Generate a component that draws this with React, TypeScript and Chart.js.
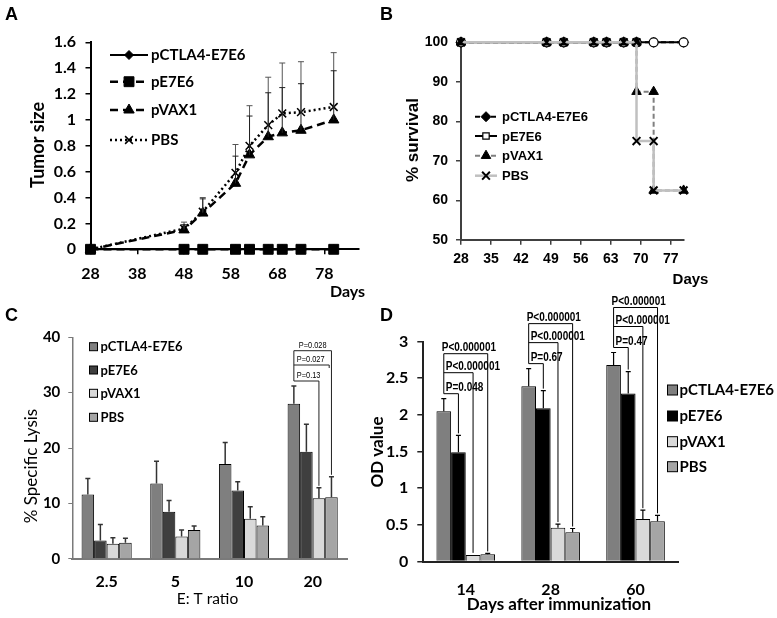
import { useEffect, useRef } from 'react';
import { Chart, registerables } from 'chart.js';
import { drawPoint } from 'chart.js/helpers';
Chart.register(...registerables);

const W = 777;
const H = 618;

const groupNames = ['pCTLA4-E7E6', 'pE7E6', 'pVAX1', 'PBS'];

// Panel A: tumor size
const tumorDays = [28, 48, 52, 59, 62, 66, 69, 73, 80];
const tumorCTLA4 = [0, 0, 0, 0, 0, 0, 0, 0, 0];
const tumorE7E6 = [0, 0, 0, 0, 0, 0, 0, 0, 0];
const tumorVAX1 = [0, 0.15, 0.28, 0.51, 0.73, 0.87, 0.9, 0.92, 1.0];
const tumorVAX1Sd = [0, 0.04, 0.11, 0.21, 0.3, 0.34, 0.35, 0.36, 0.38];
const tumorPBS = [0, 0.16, 0.29, 0.59, 0.8, 0.96, 1.05, 1.06, 1.1];
const tumorPBSSd = [0, 0.05, 0.11, 0.22, 0.31, 0.37, 0.39, 0.39, 0.42];
const tumorYTicks = [0, 0.2, 0.4, 0.6, 0.8, 1, 1.2, 1.4, 1.6];
const tumorXTicks = [28, 38, 48, 58, 68, 78];

// Panel B: survival
const survDays = [28, 48, 52, 59, 62, 66, 69, 73, 80];
const survCTLA4 = [100, 100, 100, 100, 100, 100, 100, 100, 100];
const survE7E6 = [100, 100, 100, 100, 100, 100, 100, 100, 100];
const survStepDays = [28, 48, 52, 59, 62, 66, 69, 69, 73, 73, 80];
const survVAX1 = [100, 100, 100, 100, 100, 100, 100, 87.5, 87.5, 62.5, 62.5];
const survPBS = [100, 100, 100, 100, 100, 100, 100, 75, 75, 62.5, 62.5];
const survYTicks = [50, 60, 70, 80, 90, 100];
const survXTicks = [28, 35, 42, 49, 56, 63, 70, 77];

// Panel C: specific lysis
const ratios = ['2.5', '5', '10', '20'];
const lysisCTLA4 = [11.6, 13.6, 17.1, 28.0];
const lysisCTLA4Sd = [2.9, 4.0, 3.9, 3.2];
const lysisE7E6 = [3.3, 8.5, 12.3, 19.3];
const lysisE7E6Sd = [2.9, 2.0, 1.6, 5.0];
const lysisVAX1 = [2.7, 4.0, 7.2, 10.9];
const lysisVAX1Sd = [1.1, 1.2, 2.2, 1.9];
const lysisPBS = [2.9, 5.2, 6.0, 11.1];
const lysisPBSSd = [0.8, 0.7, 1.6, 3.7];
const lysisYTicks = [0, 10, 20, 30, 40];
const lysisPLabels = ['P=0.13', 'P=0.027', 'P=0.028'];

// Panel D: OD value
const odDays = ['14', '28', '60'];
const odCTLA4 = [2.05, 2.39, 2.68];
const odCTLA4Sd = [0.17, 0.24, 0.17];
const odE7E6 = [1.49, 2.09, 2.29];
const odE7E6Sd = [0.23, 0.24, 0.3];
const odVAX1 = [0.09, 0.46, 0.58];
const odVAX1Sd = [0.0, 0.05, 0.12];
const odPBS = [0.1, 0.4, 0.55];
const odPBSSd = [0.01, 0.05, 0.08];
const odYTicks = [0, 0.5, 1, 1.5, 2, 2.5, 3];
const odPLabels = [
  ['P=0.048', 'P<0.000001', 'P<0.000001'],
  ['P=0.67', 'P<0.000001', 'P<0.000001'],
  ['P=0.47', 'P<0.000001', 'P<0.000001'],
];

const lato = (size: number, weight = 'bold') => `${weight} ${size}px Lato`;
const arial = (size: number, weight = 'bold') => `${weight} ${size}px "Liberation Sans", Arial, sans-serif`;

function pts(xs: number[], ys: number[]) {
  return xs.map((x, i) => ({ x, y: ys[i] }));
}

// chart area edges: left, top, right, bottom. Axes boxes fill the left/bottom margins.
function area(l: number, t: number, r: number, b: number) {
  return {
    padding: { left: 0, top: t, right: W - r, bottom: 0 },
    yw: l,
    xh: H - b,
  };
}

function txt(ctx: any, s: string, x: number, y: number, font: string, o: any = {}) {
  ctx.save();
  ctx.font = font;
  ctx.fillStyle = o.color || '#000';
  ctx.textAlign = o.align || 'left';
  ctx.textBaseline = o.baseline || 'alphabetic';
  ctx.translate(x, y);
  if (o.rotate) ctx.rotate(o.rotate);
  if (o.sx) ctx.scale(o.sx, 1);
  ctx.fillText(s, 0, 0);
  ctx.restore();
}

function line(ctx: any, x1: number, y1: number, x2: number, y2: number, color: string, width: number, dash: number[] = []) {
  ctx.save();
  ctx.strokeStyle = color;
  ctx.lineWidth = width;
  ctx.setLineDash(dash);
  ctx.beginPath();
  ctx.moveTo(x1, y1);
  ctx.lineTo(x2, y2);
  ctx.stroke();
  ctx.restore();
}

function marker(ctx: any, style: string, r: number, x: number, y: number, fill: string, stroke: string, bw: number) {
  ctx.save();
  ctx.fillStyle = fill;
  ctx.strokeStyle = stroke;
  ctx.lineWidth = bw;
  ctx.setLineDash([]);
  drawPoint(ctx, { pointStyle: style, radius: r, rotation: 0, borderWidth: bw } as any, x, y);
  ctx.restore();
}

function errUp(ctx: any, x: number, y1: number, y2: number, half: number, color: string, width: number) {
  ctx.save();
  ctx.strokeStyle = color;
  ctx.lineWidth = width;
  ctx.beginPath();
  ctx.moveTo(x, y1);
  ctx.lineTo(x, y2);
  ctx.moveTo(x - half, y2);
  ctx.lineTo(x + half, y2);
  ctx.stroke();
  ctx.restore();
}

function fixTicks(vals: number[]) {
  return (s: any) => {
    s.ticks = vals.map((v) => ({ value: v }));
  };
}

const baseOpts = {
  responsive: false,
  animation: false as const,
  events: [] as any[],
};

function configA(): any {
  const styles = [
    { color: '#000', width: 2, dash: [], ps: 'rectRot', r: 4.5, fill: '#000', bw: 1 },
    { color: '#000', width: 2.5, dash: [8, 5], ps: 'rect', r: 7, fill: '#000', bw: 1 },
    { color: '#000', width: 2.5, dash: [8, 5], ps: 'triangle', r: 6, fill: '#000', bw: 1 },
    { color: '#000', width: 2.5, dash: [2, 3], ps: 'crossRot', r: 5.5, fill: '#000', bw: 1.5 },
  ];
  const series = [tumorCTLA4, tumorE7E6, tumorVAX1, tumorPBS];
  const orders = [3, 2, 1, 0];
  const a = area(90.5, 42.3, 358.5, 249.3);
  return {
    type: 'line',
    data: {
      datasets: series.map((s, i) => ({
        label: groupNames[i],
        data: pts(tumorDays, s),
        borderColor: styles[i].color,
        borderWidth: styles[i].width,
        borderDash: styles[i].dash,
        pointStyle: styles[i].ps,
        pointRadius: styles[i].r,
        pointBackgroundColor: styles[i].fill,
        pointBorderColor: '#000',
        pointBorderWidth: styles[i].bw,
        tension: 0,
        clip: false,
        order: orders[i],
      })),
    },
    options: {
      ...baseOpts,
      layout: { padding: a.padding },
      plugins: { legend: { display: false }, tooltip: { enabled: false } },
      scales: {
        x: {
          type: 'linear',
          min: 28,
          max: 85.3,
          afterBuildTicks: fixTicks(tumorXTicks),
          afterFit: (s: any) => { s.height = a.xh; },
          grid: { display: true, drawOnChartArea: false, drawTicks: true, tickLength: 5, color: '#000', lineWidth: 1.5 },
          border: { display: true, color: '#000', width: 2 },
          ticks: { font: { family: 'Lato', size: 16, weight: 'bold' }, color: '#000', padding: 10, maxRotation: 0, autoSkip: false },
        },
        y: {
          type: 'linear',
          min: 0,
          max: 1.6,
          afterBuildTicks: fixTicks(tumorYTicks),
          afterFit: (s: any) => { s.width = a.yw; },
          grid: { display: true, drawOnChartArea: false, drawTicks: true, tickLength: 5, color: '#000', lineWidth: 1.5 },
          border: { display: true, color: '#000', width: 2 },
          ticks: { font: { family: 'Lato', size: 16, weight: 'bold' }, color: '#000', padding: 9.5, callback: (v: any) => String(v) },
        },
      },
    },
    plugins: [
      {
        id: 'panelA',
        afterDatasetsDraw(chart: any) {
          const ctx = chart.ctx;
          const xs = chart.scales.x;
          const ys = chart.scales.y;
          tumorDays.forEach((d, i) => {
            const x = xs.getPixelForValue(d);
            if (tumorPBSSd[i] > 0)
              errUp(ctx, x, ys.getPixelForValue(tumorPBS[i]), ys.getPixelForValue(tumorPBS[i] + tumorPBSSd[i]), 3, '#555', 1);
            if (tumorVAX1Sd[i] > 0)
              errUp(ctx, x, ys.getPixelForValue(tumorVAX1[i]), ys.getPixelForValue(tumorVAX1[i] + tumorVAX1Sd[i]), 3, '#222', 1);
          });
        },
        afterDraw(chart: any) {
          const ctx = chart.ctx;
          txt(ctx, 'A', 5, 19.5, arial(18));
          txt(ctx, 'Tumor size', 38.5, 145, lato(18), { align: 'center', baseline: 'middle', rotate: -Math.PI / 2 });
          txt(ctx, 'Days', 347.5, 297, lato(16), { align: 'center' });
          const rows = [55, 81.7, 110, 140];
          rows.forEach((y, i) => {
            const s = styles[i];
            line(ctx, 110, y, 148, y, s.color, s.width, s.dash);
            marker(ctx, s.ps, s.r, 129, y, s.fill, '#000', s.bw);
            txt(ctx, groupNames[i], 151, y + 5.3, lato(15));
          });
        },
      },
    ],
  };
}

function configB(): any {
  const styles = [
    { color: '#000', width: 2, dash: [5, 3], ps: 'rectRot', r: 5, fill: '#000', bw: 1 },
    { color: '#000', width: 2, dash: [], ps: 'circle', r: 4.5, fill: '#fff', bw: 1.2 },
    { color: '#808080', width: 2, dash: [5, 3], ps: 'triangle', r: 5.5, fill: '#000', bw: 1 },
    { color: '#c0c0c0', width: 2.5, dash: [], ps: 'crossRot', r: 5.5, fill: '#000', bw: 2 },
  ];
  const xs = [survDays, survDays, survStepDays, survStepDays];
  const series = [survCTLA4, survE7E6, survVAX1, survPBS];
  const orders = [3, 2, 1, 0];
  const a = area(461, 42.3, 683.6, 239.8);
  return {
    type: 'line',
    data: {
      datasets: series.map((s, i) => ({
        label: groupNames[i],
        data: pts(xs[i], s),
        borderColor: styles[i].color,
        borderWidth: styles[i].width,
        borderDash: styles[i].dash,
        pointStyle: styles[i].ps,
        pointRadius: styles[i].r,
        pointBackgroundColor: styles[i].fill,
        pointBorderColor: '#000',
        pointBorderWidth: styles[i].bw,
        tension: 0,
        clip: false,
        order: orders[i],
      })),
    },
    options: {
      ...baseOpts,
      layout: { padding: a.padding },
      plugins: { legend: { display: false }, tooltip: { enabled: false } },
      scales: {
        x: {
          type: 'linear',
          min: 28,
          max: 80,
          afterBuildTicks: fixTicks(survXTicks),
          afterFit: (s: any) => { s.height = a.xh; },
          grid: { display: true, drawOnChartArea: false, drawTicks: true, tickLength: 5, color: '#404040', lineWidth: 1.5 },
          border: { display: true, color: '#404040', width: 2 },
          ticks: { font: { family: 'Liberation Sans', size: 14, weight: 'bold' }, color: '#000', padding: 6, maxRotation: 0, autoSkip: false },
        },
        y: {
          type: 'linear',
          min: 50,
          max: 100,
          afterBuildTicks: fixTicks(survYTicks),
          afterFit: (s: any) => { s.width = a.yw; },
          grid: { display: true, drawOnChartArea: false, drawTicks: true, tickLength: 5, color: '#404040', lineWidth: 1.5 },
          border: { display: true, color: '#404040', width: 2 },
          ticks: { font: { family: 'Liberation Sans', size: 14, weight: 'bold' }, color: '#000', padding: 8 },
        },
      },
    },
    plugins: [
      {
        id: 'panelB',
        afterDraw(chart: any) {
          const ctx = chart.ctx;
          txt(ctx, 'B', 380, 19.5, arial(18));
          txt(ctx, '% survival', 413, 140, arial(17), { align: 'center', baseline: 'middle', rotate: -Math.PI / 2 });
          txt(ctx, 'Days', 690.5, 284, arial(15), { align: 'center' });
          const rows = [116.7, 136, 155.7, 175.7];
          rows.forEach((y, i) => {
            const s = styles[i];
            line(ctx, 475, y, 497, y, s.color, s.width, s.dash);
            const ps = i === 1 ? 'rect' : s.ps;
            marker(ctx, ps, s.r, 486, y, s.fill, '#000', s.bw);
            txt(ctx, groupNames[i], 502, y + 4.6, arial(13));
          });
        },
      },
    ],
  };
}

function configC(): any {
  const colors = ['#7f7f7f', '#3f3f3f', '#d9d9d9', '#a5a5a5'];
  const means = [lysisCTLA4, lysisE7E6, lysisVAX1, lysisPBS];
  const sds = [lysisCTLA4Sd, lysisE7E6Sd, lysisVAX1Sd, lysisPBSSd];
  const a = area(72.3, 337.3, 347, 558.7);
  return {
    type: 'bar',
    data: {
      labels: ratios,
      datasets: means.map((m, i) => ({
        label: groupNames[i],
        data: m,
        backgroundColor: colors[i],
        borderColor: '#000',
        borderWidth: 1,
        categoryPercentage: 0.73,
        barPercentage: 1,
      })),
    },
    options: {
      ...baseOpts,
      layout: { padding: a.padding },
      plugins: { legend: { display: false }, tooltip: { enabled: false } },
      scales: {
        x: {
          afterFit: (s: any) => { s.height = a.xh; },
          grid: { display: false, drawTicks: false },
          border: { display: true, color: '#7a7a7a', width: 2 },
          ticks: { font: { family: 'Lato', size: 16, weight: 'bold' }, color: '#000', padding: 13.5, maxRotation: 0 },
        },
        y: {
          type: 'linear',
          min: 0,
          max: 40,
          afterBuildTicks: fixTicks(lysisYTicks),
          afterFit: (s: any) => { s.width = a.yw; },
          grid: { display: true, drawOnChartArea: false, drawTicks: true, tickLength: 4, color: '#7a7a7a', lineWidth: 1 },
          border: { display: true, color: '#7a7a7a', width: 1.5 },
          ticks: { font: { family: 'Lato', size: 15, weight: 'bold' }, color: '#000', padding: 8 },
        },
      },
    },
    plugins: [
      {
        id: 'panelC',
        afterDatasetsDraw(chart: any) {
          const ctx = chart.ctx;
          const ys = chart.scales.y;
          const metas = [0, 1, 2, 3].map((i) => chart.getDatasetMeta(i));
          metas.forEach((meta, i) => {
            meta.data.forEach((el: any, j: number) => {
              if (sds[i][j] > 0) errUp(ctx, el.x, el.y, ys.getPixelForValue(means[i][j] + sds[i][j]), 2.5, '#333', 1.5);
            });
          });
          const g = 3;
          const L = metas[0].data[g].x;
          const errTop = ys.getPixelForValue(lysisCTLA4[g] + lysisCTLA4Sd[g]);
          const lv = [errTop - 5, errTop - 21, errTop - 35.3];
          const xV = metas[2].data[g].x;
          const xP = metas[3].data[g].x;
          const x27 = (xV + xP) / 2 + 4;
          ctx.save();
          ctx.strokeStyle = '#222';
          ctx.lineWidth = 1;
          ctx.beginPath();
          ctx.moveTo(L, lv[2]);
          ctx.lineTo(L, lv[0]);
          ctx.moveTo(L, lv[0]);
          ctx.lineTo(xV, lv[0]);
          ctx.lineTo(xV, ys.getPixelForValue(lysisVAX1[g] + lysisVAX1Sd[g]) - 2);
          ctx.moveTo(L, lv[1]);
          ctx.lineTo(x27, lv[1]);
          ctx.lineTo(x27, lv[1] + 3);
          ctx.moveTo(L, lv[2]);
          ctx.lineTo(xP, lv[2]);
          ctx.lineTo(xP, ys.getPixelForValue(lysisPBS[g] + lysisPBSSd[g]) - 2);
          ctx.stroke();
          ctx.restore();
          const f = arial(9, 'normal');
          txt(ctx, lysisPLabels[0], L + 3, lv[0] - 3, f, { sx: 0.82 });
          txt(ctx, lysisPLabels[1], L + 3, lv[1] - 3, f, { sx: 0.82 });
          txt(ctx, lysisPLabels[2], (L + xP) / 2, lv[2] - 3, f, { sx: 0.82, align: 'center' });
        },
        afterDraw(chart: any) {
          const ctx = chart.ctx;
          txt(ctx, 'C', 5, 320.5, arial(18));
          txt(ctx, '% Specific Lysis', 31.7, 466, lato(17, 'normal'), { align: 'center', baseline: 'middle', rotate: -Math.PI / 2 });
          txt(ctx, 'E: T ratio', 207.5, 604, lato(15.5, 'normal'), { align: 'center' });
          const rows = [346.7, 370, 393.3, 417.3];
          rows.forEach((y, i) => {
            ctx.save();
            ctx.fillStyle = colors[i];
            ctx.strokeStyle = '#000';
            ctx.lineWidth = 1;
            ctx.fillRect(89.5, y - 4, 8, 8);
            ctx.strokeRect(89.5, y - 4, 8, 8);
            ctx.restore();
            txt(ctx, groupNames[i], 100.5, y + 4.6, lato(13));
          });
        },
      },
    ],
  };
}

function configD(): any {
  const colors = ['#7f7f7f', '#000000', '#d9d9d9', '#a5a5a5'];
  const means = [odCTLA4, odE7E6, odVAX1, odPBS];
  const sds = [odCTLA4Sd, odE7E6Sd, odVAX1Sd, odPBSSd];
  const a = area(423.3, 341.5, 678, 561.5);
  return {
    type: 'bar',
    data: {
      labels: odDays,
      datasets: means.map((m, i) => ({
        label: groupNames[i],
        data: m,
        backgroundColor: colors[i],
        borderColor: '#000',
        borderWidth: 1,
        categoryPercentage: 0.69,
        barPercentage: 1,
      })),
    },
    options: {
      ...baseOpts,
      layout: { padding: a.padding },
      plugins: { legend: { display: false }, tooltip: { enabled: false } },
      scales: {
        x: {
          afterFit: (s: any) => { s.height = a.xh; },
          grid: { display: false, drawTicks: false },
          border: { display: true, color: '#222', width: 2 },
          ticks: { font: { family: 'Lato', size: 16, weight: 'bold' }, color: '#000', padding: 19, maxRotation: 0 },
        },
        y: {
          type: 'linear',
          min: 0,
          max: 3,
          afterBuildTicks: fixTicks(odYTicks),
          afterFit: (s: any) => { s.width = a.yw; },
          grid: { display: true, drawOnChartArea: false, drawTicks: true, tickLength: 6, color: '#222', lineWidth: 1.5 },
          border: { display: true, color: '#222', width: 2 },
          ticks: { font: { family: 'Lato', size: 16, weight: 'bold' }, color: '#000', padding: 9, callback: (v: any) => String(v) },
        },
      },
    },
    plugins: [
      {
        id: 'panelD',
        afterDatasetsDraw(chart: any) {
          const ctx = chart.ctx;
          const ys = chart.scales.y;
          const metas = [0, 1, 2, 3].map((i) => chart.getDatasetMeta(i));
          metas.forEach((meta, i) => {
            meta.data.forEach((el: any, j: number) => {
              if (sds[i][j] > 0.005) errUp(ctx, el.x, el.y, ys.getPixelForValue(means[i][j] + sds[i][j]), 2.5, '#000', 1.2);
            });
          });
          odPLabels.forEach((labels, g) => {
            const L = metas[0].data[g].x;
            const errTop = ys.getPixelForValue(odCTLA4[g] + odCTLA4Sd[g]);
            const lv = [errTop - 5, errTop - 26, errTop - 45];
            ctx.save();
            ctx.strokeStyle = '#000';
            ctx.lineWidth = 1;
            ctx.beginPath();
            ctx.moveTo(L, lv[2]);
            ctx.lineTo(L, lv[0]);
            for (let k = 0; k < 3; k++) {
              const t = k + 1;
              const X = metas[t].data[g].x;
              const topY = ys.getPixelForValue(means[t][g] + sds[t][g]) - 2;
              ctx.moveTo(L, lv[k]);
              ctx.lineTo(X, lv[k]);
              ctx.lineTo(X, topY);
            }
            ctx.stroke();
            ctx.restore();
            const f = arial(12.5);
            txt(ctx, labels[0], L + 2, lv[0] - 3, f, { sx: 0.8 });
            txt(ctx, labels[1], L + 2, lv[1] - 3, f, { sx: 0.8 });
            txt(ctx, labels[2], L - 2, lv[2] - 3, f, { sx: 0.8 });
          });
        },
        afterDraw(chart: any) {
          const ctx = chart.ctx;
          txt(ctx, 'D', 380, 320.5, arial(18));
          txt(ctx, 'OD value', 378, 452, lato(17), { align: 'center', baseline: 'middle', rotate: -Math.PI / 2 });
          txt(ctx, 'Days after immunization', 559, 610, lato(17), { align: 'center' });
          const rows = [390, 416, 441.7, 466.7];
          rows.forEach((y, i) => {
            ctx.save();
            ctx.fillStyle = colors[i];
            ctx.strokeStyle = '#000';
            ctx.lineWidth = 1;
            ctx.fillRect(667.5, y - 5, 10, 10);
            ctx.strokeRect(667.5, y - 5, 10, 10);
            ctx.restore();
            txt(ctx, groupNames[i], 679.5, y + 5.3, lato(15));
          });
        },
      },
    ],
  };
}

export default function App() {
  const r0 = useRef<HTMLCanvasElement>(null);
  const r1 = useRef<HTMLCanvasElement>(null);
  const r2 = useRef<HTMLCanvasElement>(null);
  const r3 = useRef<HTMLCanvasElement>(null);
  useEffect(() => {
    const refs = [r0, r1, r2, r3];
    const makers = [configA, configB, configC, configD];
    const charts = makers.map((mk, i) => new Chart(refs[i].current as HTMLCanvasElement, mk()));
    return () => charts.forEach((c) => c.destroy());
  }, []);
  const cs: any = { position: 'absolute', left: 0, top: 0, width: W, height: H };
  return (
    <div style={{ position: 'fixed', left: 0, top: 0, width: W, height: H, background: '#fff', overflow: 'hidden' }}>
      <canvas ref={r0} width={W} height={H} style={cs} />
      <canvas ref={r1} width={W} height={H} style={cs} />
      <canvas ref={r2} width={W} height={H} style={cs} />
      <canvas ref={r3} width={W} height={H} style={cs} />
    </div>
  );
}
